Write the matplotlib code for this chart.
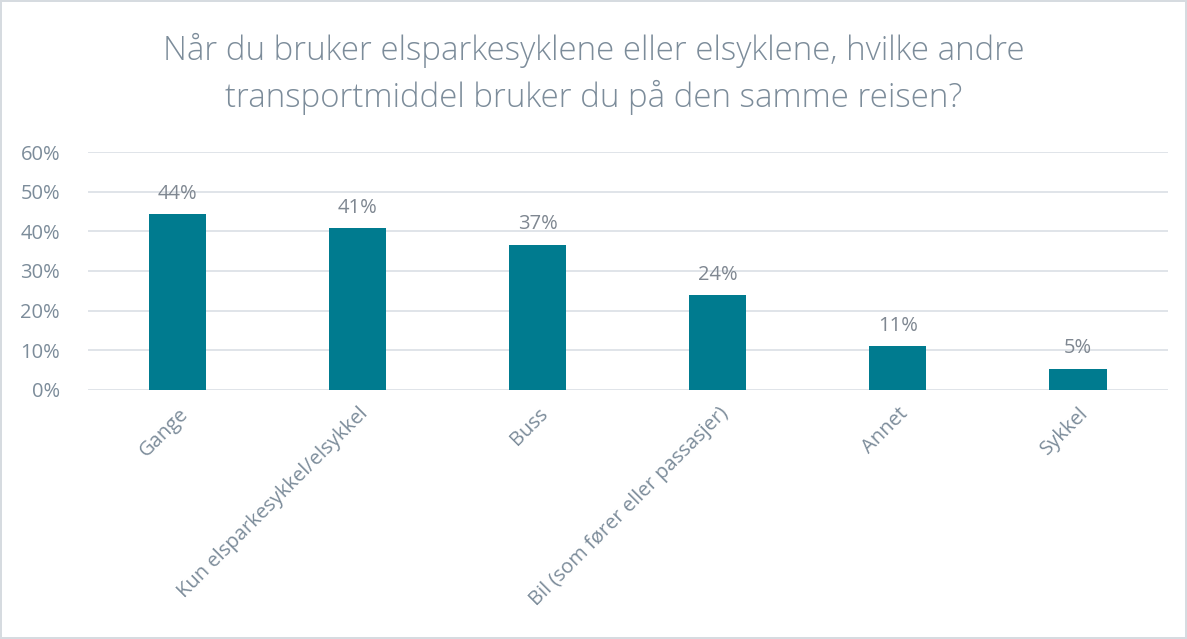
import matplotlib.pyplot as plt
from matplotlib.ticker import PercentFormatter

categories = ['Gange', 'Kun elsparkesykkel/elsykkel', 'Buss',
              'Bil (som fører eller passasjer)', 'Annet', 'Sykkel']
values = [44.3, 40.8, 36.6, 23.8, 11.0, 5.3]

bar_color = '#007B8F'
text_color = '#7C8C9A'
grid_color = '#DDE2E7'

plt.rcParams['font.family'] = ['Open Sans', 'DejaVu Sans']

fig = plt.figure(figsize=(11.87, 6.39), dpi=100)
fig.patch.set_edgecolor('#D6DBE0')
fig.patch.set_linewidth(1.5)
ax = fig.add_axes([0.074, 0.39, 0.91, 0.372])

x = range(len(categories))
bars = ax.bar(x, values, width=0.317, color=bar_color, zorder=3)
for b, v in zip(bars, values):
    ax.text(b.get_x() + b.get_width() / 2, v + 2.6, f'{round(v)}%',
            ha='center', va='bottom', fontsize=14.5, color='#7F8791')

ax.set_xlim(-0.5, len(categories) - 0.5)
ax.set_ylim(0, 60)
ax.set_yticks(range(0, 61, 10))
ax.yaxis.set_major_formatter(PercentFormatter(decimals=0))
ax.grid(axis='y', color=grid_color, linewidth=1.3, zorder=0)
ax.set_xticks(list(x))
ax.set_xticklabels(categories, rotation=45, ha='right', rotation_mode='anchor')
ax.tick_params(axis='both', length=0, labelsize=14.5, colors=text_color)
ax.tick_params(axis='x', pad=10)
ax.tick_params(axis='y', pad=20)
for s in ax.spines.values():
    s.set_visible(False)

fig.text(0.5, 0.884, 'Når du bruker elsparkesyklene eller elsyklene, hvilke andre\n'
         'transportmiddel bruker du på den samme reisen?',
         ha='center', va='center', fontsize=23.8, fontweight='light',
         color=text_color, linespacing=1.45)

fig.savefig('out.png', dpi=100, edgecolor=fig.get_edgecolor())
